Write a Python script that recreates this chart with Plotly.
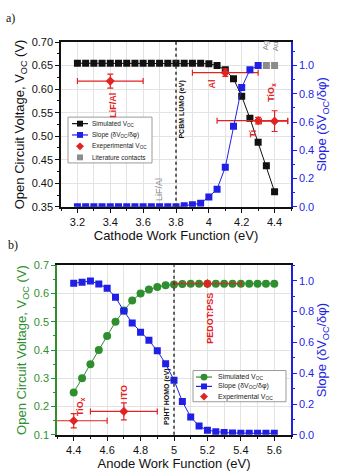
import plotly.graph_objects as go

W, H = 337, 474

# ---------------- Panel a data ----------------
cathode_wf = [3.2, 3.25, 3.3, 3.35, 3.4, 3.45, 3.5, 3.55, 3.6, 3.65, 3.7, 3.75,
              3.8, 3.85, 3.9, 3.95, 4.0, 4.05, 4.1, 4.15, 4.2, 4.25, 4.3, 4.35, 4.4]
sim_voc_a = [0.655, 0.655, 0.655, 0.655, 0.655, 0.655, 0.655, 0.655, 0.655, 0.655,
             0.655, 0.655, 0.655, 0.655, 0.655, 0.655, 0.654, 0.650, 0.641, 0.622,
             0.585, 0.538, 0.487, 0.437, 0.382]
slope_wf_a = [3.2, 3.25, 3.3, 3.35, 3.4, 3.45, 3.5, 3.55, 3.6, 3.65, 3.7, 3.75,
              3.8, 3.85, 3.9, 3.95, 4.0, 4.05, 4.1, 4.15, 4.2, 4.25, 4.3]
slope_a = [0.0, 0.0, 0.0, 0.0, 0.0, 0.0, 0.0, 0.0, 0.0, 0.0, 0.0, 0.0,
           0.0, 0.007, 0.015, 0.025, 0.07, 0.125, 0.28, 0.57, 0.845, 0.97, 1.0]
exp_wf_a = [3.4, 4.1, 4.3, 4.4]
exp_voc_a = [0.617, 0.635, 0.533, 0.532]
exp_xerr_plus_a = [0.2, 0.2, 0.18, 0.08]
exp_xerr_minus_a = [0.2, 0.2, 0.25, 0.08]
exp_yerr_a = [0.015, 0.008, 0.007, 0.022]
lit_wf = [4.35, 4.4]
lit_slope = [1.0, 1.0]

# ---------------- Panel b data ----------------
anode_wf = [4.4, 4.45, 4.5, 4.55, 4.6, 4.65, 4.7, 4.75, 4.8, 4.85, 4.9, 4.95,
            5.0, 5.05, 5.1, 5.15, 5.2, 5.25, 5.3, 5.35, 5.4, 5.45, 5.5, 5.55, 5.6]
sim_voc_b = [0.25, 0.30, 0.35, 0.40, 0.45, 0.50, 0.54, 0.575, 0.60, 0.614, 0.623, 0.629,
             0.632, 0.634, 0.635, 0.635, 0.635, 0.635, 0.635, 0.635, 0.635, 0.635,
             0.635, 0.635, 0.635]
slope_b = [0.983, 0.99, 0.998, 0.979, 0.951, 0.892, 0.803, 0.725, 0.666, 0.613, 0.545,
           0.461, 0.355, 0.216, 0.116, 0.057, 0.03, 0.021, 0.015, 0.012, 0.01, 0.01,
           0.01, 0.01, 0.01]
exp_wf_b = [4.4, 4.7, 5.2]
exp_voc_b = [0.15, 0.183, 0.635]
exp_xerr_b = [0.2, 0.2, 0.2]
exp_yerr_b = [0.025, 0.03, 0.008]

BLACK = "#111111"
BLUE = "#1f1fe6"
GREEN = "#2f8f2f"
RED = "#e32222"
GRAY = "#8c8c8c"
FONT = "Liberation Sans"

fig = go.Figure()

# Panel a traces
fig.add_trace(go.Scatter(x=cathode_wf, y=sim_voc_a, mode="lines+markers",
                         line=dict(color=BLACK, width=1),
                         marker=dict(symbol="square", size=7, color=BLACK),
                         xaxis="x", yaxis="y", showlegend=False))
fig.add_trace(go.Scatter(x=slope_wf_a, y=slope_a, mode="lines+markers",
                         line=dict(color=BLUE, width=1),
                         marker=dict(symbol="square", size=7, color=BLUE),
                         xaxis="x", yaxis="y2", showlegend=False))
fig.add_trace(go.Scatter(x=lit_wf, y=lit_slope, mode="markers",
                         marker=dict(symbol="square", size=7, color=GRAY),
                         xaxis="x", yaxis="y2", showlegend=False))
fig.add_trace(go.Scatter(x=exp_wf_a, y=exp_voc_a, mode="markers",
                         marker=dict(symbol="diamond", size=7, color=RED),
                         error_x=dict(type="data", array=exp_xerr_plus_a,
                                      arrayminus=exp_xerr_minus_a, symmetric=False,
                                      color=RED, thickness=1.2, width=3),
                         error_y=dict(type="data", array=exp_yerr_a, color=RED,
                                      thickness=1.2, width=3),
                         xaxis="x", yaxis="y", showlegend=False))

# Panel b traces
fig.add_trace(go.Scatter(x=anode_wf, y=sim_voc_b, mode="lines+markers",
                         line=dict(color=GREEN, width=1),
                         marker=dict(symbol="circle", size=8, color=GREEN),
                         xaxis="x2", yaxis="y3", showlegend=False))
fig.add_trace(go.Scatter(x=anode_wf, y=slope_b, mode="lines+markers",
                         line=dict(color=BLUE, width=1),
                         marker=dict(symbol="square", size=7, color=BLUE),
                         xaxis="x2", yaxis="y4", showlegend=False))
fig.add_trace(go.Scatter(x=exp_wf_b, y=exp_voc_b, mode="markers",
                         marker=dict(symbol="diamond", size=7, color=RED),
                         error_x=dict(type="data", array=exp_xerr_b, color=RED,
                                      thickness=1.2, width=3),
                         error_y=dict(type="data", array=exp_yerr_b, color=RED,
                                      thickness=1.2, width=3),
                         xaxis="x2", yaxis="y3", showlegend=False))

def dom_x(p0, p1):
    return [p0 / W, p1 / W]

def dom_y(top, bottom):
    return [1 - bottom / H, 1 - top / H]

grid = "#e3e3e3"

def xax(domain, rng, anchor, title):
    return dict(domain=domain, range=rng, anchor=anchor, dtick=0.2, tick0=0,
                showline=True, linecolor=BLACK, linewidth=1.5, mirror=True,
                ticks="outside", ticklen=4, tickcolor=BLACK, tickwidth=1,
                tickfont=dict(family=FONT, size=11, color=BLACK),
                showgrid=True, gridcolor=grid, gridwidth=1, zeroline=False,
                minor=dict(dtick=0.1, ticks="outside", ticklen=2, tickcolor=BLACK,
                           showgrid=True, gridcolor=grid),
                title=dict(text=title, font=dict(family=FONT, size=13, color=BLACK),
                           standoff=2))

def yax(domain, rng, anchor, dtick, mdtick, color, title, side="left",
        overlaying=None, grid_on=True, fmt=None, standoff=4):
    d = dict(domain=domain, range=rng, anchor=anchor, dtick=dtick, tick0=0,
             side=side, showline=True, linecolor=color, linewidth=1.5,
             ticks="outside", ticklen=4, tickcolor=color, tickwidth=1,
             tickfont=dict(family=FONT, size=11, color=color),
             showgrid=grid_on, gridcolor=grid, zeroline=False,
             minor=dict(dtick=mdtick, ticks="outside", ticklen=2, tickcolor=color,
                        showgrid=False),
             title=dict(text=title, font=dict(family=FONT, size=13, color=color),
                        standoff=standoff))
    if overlaying:
        d["overlaying"] = overlaying
    if fmt:
        d["tickformat"] = fmt
    return d

dxa = dom_x(61, 291)
dya = dom_y(37, 206)
dxb = dom_x(57, 291)
dyb = dom_y(266, 440)

fig.update_layout(
    width=W, height=H, margin=dict(l=0, r=0, t=0, b=0),
    plot_bgcolor="white", paper_bgcolor="white",
    font=dict(family=FONT, color=BLACK),
    xaxis=xax(dxa, [3.1, 4.5], "y", "Cathode Work Function (eV)"),
    yaxis=yax(dya, [0.35, 0.70], "x", 0.05, 0.025, BLACK,
              "Open Circuit Voltage, V<sub>OC</sub> (V)", fmt=".2f"),
    yaxis2=yax(dya, [0, 7 / 6], "x", 0.2, 0.1, BLUE,
               "Slope (δV<sub>OC</sub>/δφ)", side="right", overlaying="y",
               grid_on=False, fmt=".1f"),
    xaxis2=xax(dxb, [4.3, 5.7], "y3", "Anode Work Function (eV)"),
    yaxis3=yax(dyb, [0.1, 0.7], "x2", 0.1, 0.05, GREEN,
               "Open Circuit Voltage, V<sub>OC</sub> (V)", fmt=".1f"),
    yaxis4=yax(dyb, [0, 1.1], "x2", 0.2, 0.1, BLUE,
               "Slope (δV<sub>OC</sub>/δφ)", side="right", overlaying="y3",
               grid_on=False, fmt=".1f"),
)

shapes = []
shapes.append(dict(type="line", xref="x", yref="y domain", x0=3.8, x1=3.8, y0=0, y1=1,
                   line=dict(color="#333333", width=1.5, dash="dot")))
shapes.append(dict(type="line", xref="x2", yref="y3 domain", x0=5.0, x1=5.0, y0=0, y1=1,
                   line=dict(color="#333333", width=1.5, dash="dot")))

annotations = []

def ann(text, x, y, xref, yref, color, size, angle=-90, bold=False, family=FONT,
        xanchor="center", yanchor="middle"):
    if bold:
        text = "<b>" + text + "</b>"
    annotations.append(dict(text=text, x=x, y=y, xref=xref, yref=yref, showarrow=False,
                            textangle=angle, xanchor=xanchor, yanchor=yanchor,
                            font=dict(family=family, size=size, color=color)))

# panel a labels
ann("LiF/Al", 3.42, 0.566, "x", "y", RED, 9, bold=True)
ann("LiF/Al", 3.70, 0.387, "x", "y", GRAY, 9)
ann("PCBM LUMO (eV)", 3.835, 0.556, "x", "y", BLACK, 7, bold=True)
ann("Al", 4.02, 0.610, "x", "y", RED, 9, bold=True)
ann("Ti", 4.27, 0.506, "x", "y", RED, 9, bold=True)
ann("TiO<sub>x</sub>", 4.38, 0.593, "x", "y", RED, 9, bold=True)
ann("Ag", 4.345, 0.692, "x", "y", GRAY, 8)
ann("Au", 4.405, 0.692, "x", "y", GRAY, 8)
# panel b labels
ann("TiO<sub>x</sub>", 4.44, 0.20, "x2", "y3", RED, 9, bold=True)
ann("ITO", 4.70, 0.252, "x2", "y3", RED, 9, bold=True)
ann("PEDOT:PSS", 5.215, 0.514, "x2", "y3", RED, 9, bold=True)
ann("P3HT HOMO (eV)", 4.958, 0.237, "x2", "y3", BLACK, 7, bold=True)
# panel letters
ann("a)", 4 / W, 1 - 12 / H, "paper", "paper", BLACK, 12, angle=0,
    family="Liberation Serif", xanchor="left")
ann("b)", 6 / W, 1 - 245 / H, "paper", "paper", BLACK, 12, angle=0,
    family="Liberation Serif", xanchor="left")

# ---- custom legends (pixel positions converted to paper) ----
def legend(box, rows, x_line0, x_line1, x_text, fsize):
    bx0, by0, bx1, by1 = box
    shapes.append(dict(type="rect", xref="paper", yref="paper", layer="above",
                       x0=bx0 / W, x1=bx1 / W, y0=1 - by1 / H, y1=1 - by0 / H,
                       line=dict(color="#9a9a9a", width=1), fillcolor="white"))
    for (label, color, sym, with_line, py) in rows:
        yc = 1 - py / H
        xm = (x_line0 + x_line1) / 2
        if with_line:
            shapes.append(dict(type="line", xref="paper", yref="paper", layer="above",
                               x0=x_line0 / W, x1=x_line1 / W, y0=yc, y1=yc,
                               line=dict(color=color, width=1.2)))
        r = 3
        if sym == "square":
            shapes.append(dict(type="rect", xref="paper", yref="paper", layer="above",
                               x0=(xm - r) / W, x1=(xm + r) / W,
                               y0=1 - (py + r) / H, y1=1 - (py - r) / H,
                               line=dict(width=0), fillcolor=color))
        elif sym == "circle":
            shapes.append(dict(type="circle", xref="paper", yref="paper", layer="above",
                               x0=(xm - r - 0.5) / W, x1=(xm + r + 0.5) / W,
                               y0=1 - (py + r + 0.5) / H, y1=1 - (py - r - 0.5) / H,
                               line=dict(width=0), fillcolor=color))
        elif sym == "diamond":
            d = 4
            path = "M {} {} L {} {} L {} {} L {} {} Z".format(
                (xm - d) / W, yc, xm / W, 1 - (py - d) / H,
                (xm + d) / W, yc, xm / W, 1 - (py + d) / H)
            shapes.append(dict(type="path", xref="paper", yref="paper", layer="above",
                               path=path, line=dict(width=0), fillcolor=color))
        annotations.append(dict(text=label, x=x_text / W, y=yc, xref="paper", yref="paper",
                                showarrow=False, xanchor="left", yanchor="middle",
                                font=dict(family=FONT, size=fsize, color="#222222")))

legend((68, 114, 152, 161),
       [("Simulated V<sub>OC</sub>", BLACK, "square", True, 120.7),
        ("Slope (δV<sub>OC</sub>/δφ)", BLUE, "square", True, 132.3),
        ("Exeperimental V<sub>OC</sub>", RED, "diamond", False, 144.0),
        ("Literature contacts", GRAY, "square", False, 155.3)],
       72, 88, 90, 6.5)
legend((193, 374, 286, 406),
       [("Simulated V<sub>OC</sub>", GREEN, "circle", True, 380.7),
        ("Slope (δV<sub>OC</sub>/δφ)", BLUE, "square", True, 390.3),
        ("Experimental V<sub>OC</sub>", RED, "diamond", False, 400.7)],
       196, 212, 216, 7)

fig.update_layout(shapes=shapes, annotations=annotations)
fig.write_html("out.html")
